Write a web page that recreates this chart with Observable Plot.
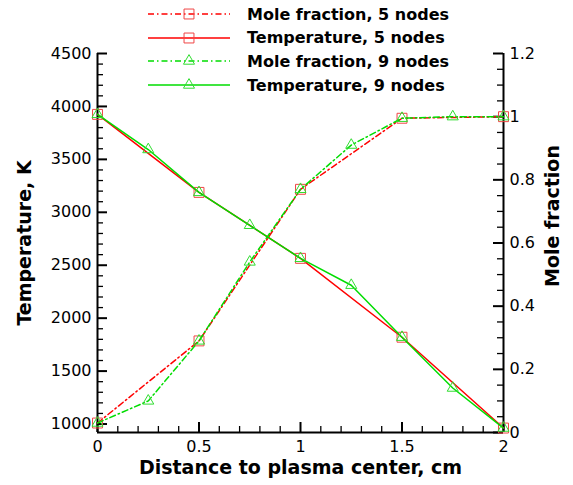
<!DOCTYPE html>
<html><head><meta charset="utf-8">
<script src="https://cdn.jsdelivr.net/npm/d3@7"></script>
<script src="https://cdn.jsdelivr.net/npm/@observablehq/plot@0.6"></script>
<style>
body{margin:0;background:#fff;}
#wrap{position:relative;width:573px;height:485px;}
#legend{position:absolute;left:0;top:0;width:573px;height:100px;}
.row{position:absolute;left:148px;height:20px;display:flex;align-items:center;}
.row span{font:bold 16px "DejaVu Sans";color:#000;margin-left:17px;white-space:nowrap;}
</style>
</head><body>
<div id="wrap"><div id="chart"></div><div id="legend"></div></div>
<script>
// ---- data ----
const xNodes5 = [0, 0.5, 1, 1.5, 2];
const temp5 = [3925, 3188, 2565, 1820, 962];
const mole5 = [0.03, 0.29, 0.77, 0.995, 1.0];
const xNodes9 = [0, 0.25, 0.5, 0.75, 1, 1.25, 1.5, 1.75, 2];
const temp9 = [3925, 3593, 3188, 2877, 2565, 2311, 1820, 1340, 962];
const mole9 = [0.03, 0.10, 0.29, 0.54, 0.77, 0.91, 0.995, 1.0, 1.0];
const seriesLabels = ["Mole fraction, 5 nodes", "Temperature, 5 nodes", "Mole fraction, 9 nodes", "Temperature, 9 nodes"];
const tempTicks = [1000, 1500, 2000, 2500, 3000, 3500, 4000, 4500];
const moleTicks = [0, 0.2, 0.4, 0.6, 0.8, 1, 1.2];
const xTicks = [0, 0.5, 1, 1.5, 2];
const xTitle = "Distance to plasma center, cm";
const yTitleLeft = "Temperature, K";
const yTitleRight = "Mole fraction";

// ---- scales ----
const T0 = 920, T1 = 4500, M1 = 1.2;
const toT = m => T0 + m * (T1 - T0) / M1;
const fromT = t => (t - T0) * M1 / (T1 - T0);

const W = 573, H = 485, mL = 97, mR = 70, mT = 53, mB = 53;
const fw = W - mL - mR, fh = H - mT - mB;

const red = "#ff0000", green = "#00dd00";
const redMk = "#f04545", greenMk = "#30dd30";
const dash = "6,3,1.5,3";

const t5 = xNodes5.map((x, i) => ({x, y: temp5[i]}));
const m5 = xNodes5.map((x, i) => ({x, y: toT(mole5[i])}));
const t9 = xNodes9.map((x, i) => ({x, y: temp9[i]}));
const m9 = xNodes9.map((x, i) => ({x, y: toT(mole9[i])}));

const tempMinor = d3.range(1000, 4501, 100).filter(v => !tempTicks.includes(v));
const moleMinor = d3.range(0, 24).map(i => i * 0.05).filter(v => !moleTicks.some(t => Math.abs(t - v) < 1e-9));
const xMinor = d3.range(0, 21).map(i => i / 10).filter(v => !xTicks.some(t => Math.abs(t - v) < 1e-9));

const plot = Plot.plot({
  width: W, height: H,
  marginLeft: mL, marginRight: mR, marginTop: mT, marginBottom: mB,
  style: {fontFamily: "DejaVu Sans", fontSize: "16px", color: "#000", background: "#fff"},
  x: {domain: [0, 2]},
  y: {domain: [T0, T1]},
  marks: [
    // ticks (inward)
    Plot.tickY(tempTicks, {y: d => d, insetRight: fw - 10, stroke: "#000", strokeWidth: 2}),
    Plot.tickY(tempMinor, {y: d => d, insetRight: fw - 6, stroke: "#000", strokeWidth: 1.3}),
    Plot.tickY(moleTicks.map(toT), {y: d => d, insetLeft: fw - 10, stroke: "#000", strokeWidth: 2}),
    Plot.tickY(moleMinor.map(toT), {y: d => d, insetLeft: fw - 6, stroke: "#000", strokeWidth: 1.3}),
    Plot.tickX(xTicks, {x: d => d, insetTop: fh - 10, stroke: "#000", strokeWidth: 2}),
    Plot.tickX(xMinor, {x: d => d, insetTop: fh - 6, stroke: "#000", strokeWidth: 1.3}),
    // axis lines
    Plot.ruleX([0, 2], {stroke: "#000", strokeWidth: 2}),
    Plot.ruleY([T0], {stroke: "#000", strokeWidth: 2}),
    // tick labels
    Plot.axisY({anchor: "left", ticks: tempTicks, tickSize: 0, tickPadding: 6, label: null, fontSize: 16,
      tickFormat: d => String(d)}),
    Plot.axisY({anchor: "right", ticks: moleTicks.map(toT), tickSize: 0, tickPadding: 6, label: null, fontSize: 16,
      tickFormat: t => String(+fromT(t).toFixed(2))}),
    Plot.axisX({anchor: "bottom", ticks: xTicks, tickSize: 0, tickPadding: 8, label: null, fontSize: 16,
      tickFormat: d => String(d)}),
    // titles
    Plot.text([xTitle], {frameAnchor: "bottom", textAnchor: "middle", dy: 41, fontWeight: "bold", fontSize: 19, fill: "#000"}),
    Plot.text([yTitleLeft], {frameAnchor: "left", textAnchor: "middle", dx: -73, rotate: -90, fontWeight: "bold", fontSize: 19, fill: "#000"}),
    Plot.text([yTitleRight], {frameAnchor: "right", textAnchor: "middle", dx: 49, dy: -27, rotate: -90, fontWeight: "bold", fontSize: 19, fill: "#000"}),
    // series
    Plot.line(m5, {x: "x", y: "y", stroke: red, strokeWidth: 1.5, strokeDasharray: dash}),
    Plot.dot(m5, {x: "x", y: "y", symbol: "square", r: 5.6, stroke: redMk, strokeWidth: 1, fill: "none"}),
    Plot.line(t5, {x: "x", y: "y", stroke: red, strokeWidth: 1.5}),
    Plot.dot(t5, {x: "x", y: "y", symbol: "square", r: 5.6, stroke: redMk, strokeWidth: 1, fill: "none"}),
    Plot.line(m9, {x: "x", y: "y", stroke: green, strokeWidth: 1.5, strokeDasharray: dash}),
    Plot.dot(m9, {x: "x", y: "y", symbol: "triangle", r: 4.1, stroke: greenMk, strokeWidth: 1, fill: "none"}),
    Plot.line(t9, {x: "x", y: "y", stroke: green, strokeWidth: 1.5}),
    Plot.dot(t9, {x: "x", y: "y", symbol: "triangle", r: 4.1, stroke: greenMk, strokeWidth: 1, fill: "none"})
  ]
});
document.getElementById("chart").appendChild(plot);

// ---- legend ----
const legendStyles = [
  {stroke: red, mk: redMk, dash: dash, sym: "square"},
  {stroke: red, mk: redMk, dash: null, sym: "square"},
  {stroke: green, mk: greenMk, dash: dash, sym: "triangle"},
  {stroke: green, mk: greenMk, dash: null, sym: "triangle"}
];
const legend = document.getElementById("legend");
seriesLabels.forEach((lab, i) => {
  const s = legendStyles[i];
  const row = document.createElement("div");
  row.className = "row";
  row.style.top = (4 + i * 23.67) + "px";
  const ns = "http://www.w3.org/2000/svg";
  const svg = document.createElementNS(ns, "svg");
  svg.setAttribute("width", 82); svg.setAttribute("height", 20);
  const ln = document.createElementNS(ns, "line");
  ln.setAttribute("x1", 0); ln.setAttribute("x2", 82); ln.setAttribute("y1", 10); ln.setAttribute("y2", 10);
  ln.setAttribute("stroke", s.stroke); ln.setAttribute("stroke-width", 1.5);
  if (s.dash) ln.setAttribute("stroke-dasharray", s.dash);
  svg.appendChild(ln);
  const mk = document.createElementNS(ns, "path");
  const size = s.sym === "square" ? Math.PI * 5.6 * 5.6 : Math.PI * 4.1 * 4.1;
  mk.setAttribute("d", d3.symbol(s.sym === "square" ? d3.symbolSquare : d3.symbolTriangle, size)());
  mk.setAttribute("transform", "translate(41,10)");
  mk.setAttribute("fill", "none"); mk.setAttribute("stroke", s.mk);
  svg.appendChild(mk);
  row.appendChild(svg);
  const sp = document.createElement("span");
  sp.textContent = lab;
  row.appendChild(sp);
  legend.appendChild(row);
});
</script>
</body></html>
